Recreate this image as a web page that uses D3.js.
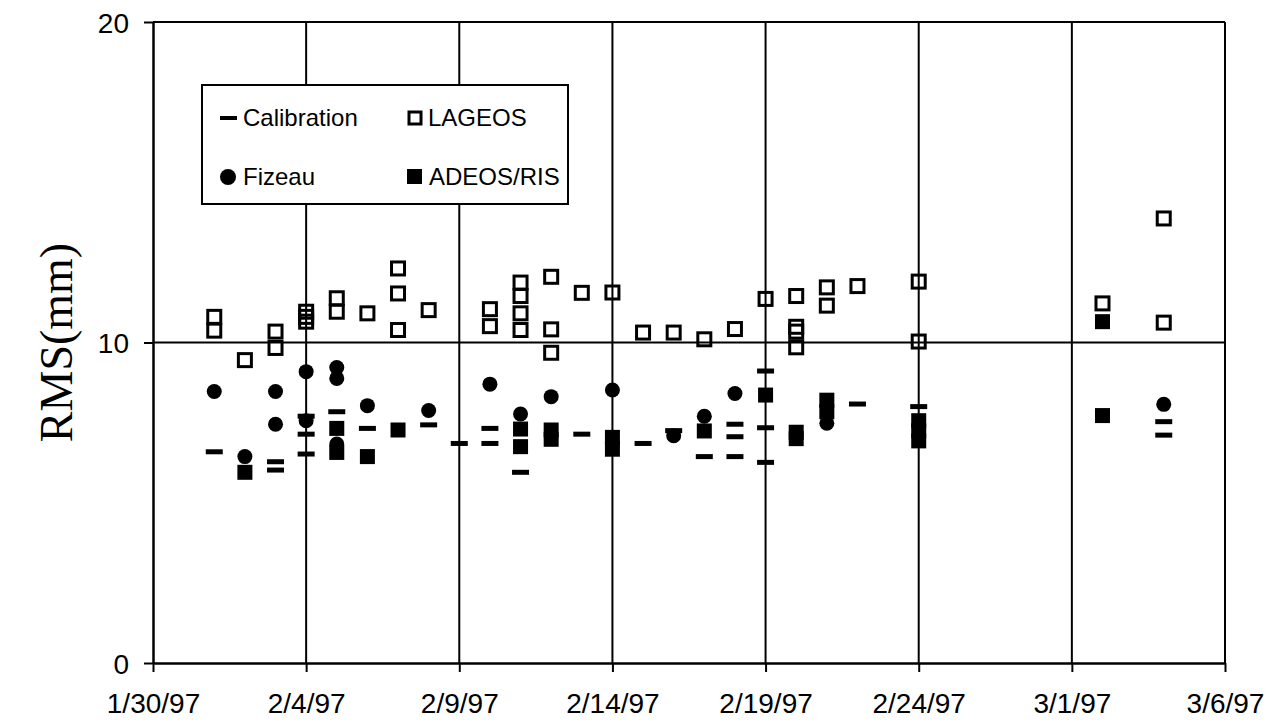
<!DOCTYPE html>
<html>
<head>
<meta charset="utf-8">
<script src="https://cdn.jsdelivr.net/npm/d3@7"></script>
<style>
  html, body { margin: 0; padding: 0; background: #fff; }
  svg { display: block; }
  text { font-family: "Liberation Sans", Arial, sans-serif; fill: #000; }
</style>
</head>
<body>
<svg id="chart" width="1285" height="727"></svg>
<script>
// ---------- data ----------
const xTickLabels = ["1/30/97", "2/4/97", "2/9/97", "2/14/97", "2/19/97", "2/24/97", "3/1/97", "3/6/97"];
const yTickValues = [0, 10, 20];

const calibrationDates  = ["2/1","2/3","2/3","2/4","2/4","2/4","2/5","2/6","2/8","2/9","2/10","2/10","2/11","2/13","2/15","2/16","2/17","2/18","2/18","2/18","2/19","2/19","2/19","2/22","2/24","3/4","3/4"];
const calibrationValues = [6.59, 6.28, 6.02, 7.7, 7.14, 6.52, 7.84, 7.32, 7.43, 6.85, 7.32, 6.85, 5.95, 7.14, 6.85, 7.25, 6.44, 7.45, 7.06, 6.44, 9.11, 7.34, 6.26, 8.08, 8.0, 7.53, 7.11];

const lageosDates  = ["2/1","2/1","2/2","2/3","2/3","2/4","2/4","2/4","2/5","2/5","2/6","2/7","2/7","2/7","2/8","2/10","2/10","2/11","2/11","2/11","2/11","2/12","2/12","2/12","2/13","2/14","2/15","2/16","2/17","2/18","2/19","2/20","2/20","2/20","2/20","2/21","2/21","2/22","2/24","2/24","3/2","3/4","3/4"];
const lageosValues = [10.8, 10.37, 9.45, 10.34, 9.83, 10.96, 10.8, 10.65, 11.38, 10.96, 10.91, 12.31, 11.53, 10.39, 11.01, 11.04, 10.51, 11.87, 11.45, 10.91, 10.39, 12.05, 10.41, 9.68, 11.55, 11.56, 10.31, 10.31, 10.1, 10.42, 11.36, 11.45, 10.49, 10.34, 9.85, 11.72, 11.15, 11.76, 11.9, 10.03, 11.22, 13.87, 10.62];

const fizeauDates  = ["2/1","2/2","2/3","2/3","2/4","2/4","2/5","2/5","2/5","2/6","2/8","2/10","2/11","2/12","2/14","2/16","2/17","2/18","2/21","3/4"];
const fizeauValues = [8.47, 6.44, 8.47, 7.45, 9.09, 7.56, 9.22, 8.88, 6.83, 8.03, 7.88, 8.7, 7.77, 8.31, 8.52, 7.09, 7.7, 8.41, 7.48, 8.07];

const adeosDates  = ["2/2","2/5","2/5","2/6","2/7","2/11","2/11","2/12","2/12","2/14","2/14","2/17","2/19","2/20","2/20","2/21","2/21","2/24","2/24","2/24","3/2","3/2"];
const adeosValues = [5.95, 7.32, 6.57, 6.44, 7.27, 7.3, 6.75, 7.27, 6.98, 7.04, 6.67, 7.24, 8.36, 7.2, 7.0, 8.2, 7.84, 7.56, 7.25, 6.93, 10.65, 7.72];

const legendLabels = ["Calibration", "LAGEOS", "Fizeau", "ADEOS/RIS"];
const yAxisTitle = "RMS(mm)";

// ---------- helpers ----------
const parseTick = d3.timeParse("%m/%d/%y");
const parseDay = s => { const [m, d] = s.split("/").map(Number); return new Date(1997, m - 1, d); };
const zip = (ds, vs) => ds.map((d, i) => ({ date: parseDay(d), value: vs[i] }));

const svg = d3.select("#chart");
const M = { left: 153, right: 1225, top: 22, bottom: 663 };

const tickDates = xTickLabels.map(parseTick);
const x = d3.scaleTime().domain([tickDates[0], tickDates[tickDates.length - 1]]).range([M.left, M.right]);
const y = d3.scaleLinear().domain([0, 20]).range([M.bottom, M.top]);

// ---------- grid ----------
const grid = svg.append("g").attr("stroke", "#000").attr("stroke-width", 2);
grid.selectAll(".vg").data(tickDates.slice(1)).join("line")
  .attr("x1", d => x(d)).attr("x2", d => x(d))
  .attr("y1", y(20)).attr("y2", y(0));
grid.selectAll(".hg").data([10, 20]).join("line")
  .attr("x1", M.left).attr("x2", M.right)
  .attr("y1", d => y(d)).attr("y2", d => y(d));

// ---------- axes ----------
const fmt = d3.timeFormat("%-m/%-d/%y");
const xAxis = svg.append("g").attr("transform", `translate(0,${M.bottom})`)
  .call(d3.axisBottom(x).tickValues(tickDates).tickFormat(fmt).tickSize(9).tickSizeOuter(0));
xAxis.select(".domain").attr("stroke-width", 2.5);
xAxis.selectAll(".tick line").attr("stroke-width", 2);
xAxis.selectAll(".tick text").attr("y", 50).attr("dy", 0)
  .style("font-size", "28px").style("font-family", "Liberation Sans, Arial, sans-serif");

const yAxis = svg.append("g").attr("transform", `translate(${M.left},0)`)
  .call(d3.axisLeft(y).tickValues(yTickValues).tickFormat(d3.format("d")).tickSize(9).tickSizeOuter(0));
yAxis.select(".domain").attr("stroke-width", 2.5);
yAxis.selectAll(".tick line").attr("stroke-width", 2);
yAxis.selectAll(".tick text").attr("x", -24).attr("dy", "0.36em")
  .style("font-size", "28px").style("font-family", "Liberation Sans, Arial, sans-serif");

// y axis title
svg.append("text")
  .attr("transform", `translate(72,${(M.top + M.bottom) / 2}) rotate(-90)`)
  .attr("text-anchor", "middle")
  .style("font-family", "Liberation Serif, 'Times New Roman', serif")
  .style("font-size", "46px")
  .text(yAxisTitle);

// ---------- marks ----------
const marks = svg.append("g");
// Calibration: horizontal dash
marks.append("g").selectAll("rect").data(zip(calibrationDates, calibrationValues)).join("rect")
  .attr("x", d => x(d.date) - 8.5).attr("y", d => y(d.value) - 2.5)
  .attr("width", 17).attr("height", 5).attr("fill", "#000");
// ADEOS/RIS: filled square
marks.append("g").selectAll("rect").data(zip(adeosDates, adeosValues)).join("rect")
  .attr("x", d => x(d.date) - 7.5).attr("y", d => y(d.value) - 7.5)
  .attr("width", 15).attr("height", 15).attr("fill", "#000");
// Fizeau: filled circle
marks.append("g").selectAll("circle").data(zip(fizeauDates, fizeauValues)).join("circle")
  .attr("cx", d => x(d.date)).attr("cy", d => y(d.value)).attr("r", 7.5).attr("fill", "#000");
// LAGEOS: open square
marks.append("g").selectAll("rect").data(zip(lageosDates, lageosValues)).join("rect")
  .attr("x", d => x(d.date) - 6.5).attr("y", d => y(d.value) - 6.5)
  .attr("width", 13).attr("height", 13).attr("fill", "none")
  .attr("stroke", "#000").attr("stroke-width", 3);

// ---------- legend ----------
const lg = svg.append("g");
lg.append("rect").attr("x", 202).attr("y", 85).attr("width", 366).attr("height", 119)
  .attr("fill", "#fff").attr("stroke", "#000").attr("stroke-width", 2);
const row1 = 118, row2 = 177;
lg.append("rect").attr("x", 220).attr("y", row1 - 2).attr("width", 17).attr("height", 4).attr("fill", "#000");
lg.append("circle").attr("cx", 228).attr("cy", row2).attr("r", 8).attr("fill", "#000");
lg.append("rect").attr("x", 409).attr("y", row1 - 6).attr("width", 12).attr("height", 12)
  .attr("fill", "none").attr("stroke", "#000").attr("stroke-width", 3);
lg.append("rect").attr("x", 407).attr("y", row2 - 8).attr("width", 15).attr("height", 15).attr("fill", "#000");
const lt = [[243, row1 + 8, 0], [428, row1 + 8, 1], [243, row2 + 8, 2], [429, row2 + 8, 3]];
lg.selectAll("text").data(lt).join("text")
  .attr("x", d => d[0]).attr("y", d => d[1])
  .style("font-size", "24px")
  .text(d => legendLabels[d[2]]);
</script>
</body>
</html>
